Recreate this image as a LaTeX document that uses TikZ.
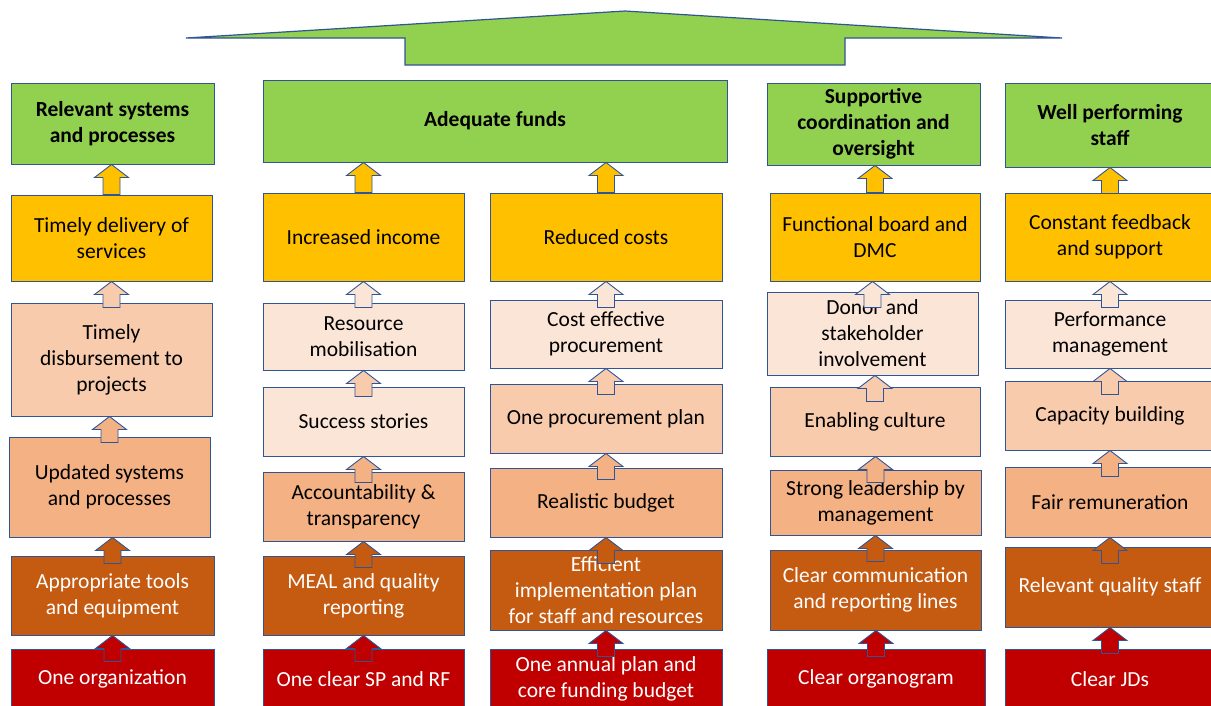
\documentclass[tikz,border=0pt]{standalone}
\usepackage{fontspec}
\setmainfont{Carlito}
\usetikzlibrary{calc}

\definecolor{bordc}{RGB}{47,85,151}
\definecolor{cgreen}{HTML}{92D050}
\definecolor{cgold}{HTML}{FFC000}
\definecolor{cpale}{HTML}{FBE5D6}
\definecolor{clight}{HTML}{F8CBAD}
\definecolor{cmid}{HTML}{F4B183}
\definecolor{cdark}{HTML}{C55A11}
\definecolor{cred}{HTML}{C00000}

\tikzset{
  box/.style={draw=bordc, line width=1pt, inner sep=2pt, align=center,
    font=\fontsize{21.5}{26}\selectfont},
  goal/.style={box, fill=cgreen, font=\fontsize{21.5}{26}\selectfont\bfseries},
  outc/.style={box, fill=cgold},
  pale/.style={box, fill=cpale},
  light/.style={box, fill=clight},
  mid/.style={box, fill=cmid},
  darkb/.style={box, fill=cdark, text=white},
  base/.style={box, fill=cred, text=white},
  arrowshape/.style={draw=bordc, line width=0.9pt, line join=miter},
  bigarr/.style={draw=bordc, line width=1.2pt, fill=cgreen, line join=miter},
}

% box: name, style, x1, y1, x2, y2, text  (pixel-like coordinates, y downwards)
\newcommand\bx[7]{\node[#2, minimum width={(#5-#3)*1pt}, minimum height={(#6-#4)*1pt}]
  (#1) at ({(#3+#5)/2},{(#4+#6)/2}) {#7};}

% small block arrow from the top of one box up to the bottom of another
\newcommand\uparr[3]{\draw[arrowshape, fill=#3]
  let \p1=(#1.north), \p2=(#2.south), \n1={min(\y1,\y2-26pt)} in
  ({\x1-8.5pt},{\n1*1pt}) -- ({\x1-8.5pt},{\y2-13pt}) -- ({\x1-17pt},{\y2-13pt})
  -- (\x1,\y2) -- ({\x1+17pt},{\y2-13pt}) -- ({\x1+8.5pt},{\y2-13pt})
  -- ({\x1+8.5pt},{\n1*1pt}) -- cycle;}

\begin{document}
\begin{tikzpicture}[x=1pt, y=-1pt]
\useasboundingbox (0,0) rectangle (1211,705);

% overall upward arrow
\draw[bigarr] (186,38) -- (625,11) -- (1062,38) -- (845,38) -- (845,65)
  -- (405,65) -- (405,38) -- cycle;

% column 1
\bx{g1}{goal}{11}{83}{214}{164}{Relevant systems\\and processes}
\bx{p1}{outc}{11}{195}{212}{281}{Timely delivery of\\services}
\bx{p2}{light}{11}{303}{212}{416}{Timely\\disbursement to\\projects}
\bx{p3}{mid}{9}{437}{210}{537}{Updated systems\\and processes}
\bx{p4}{darkb}{11}{556}{214}{635}{Appropriate tools\\and equipment}
\bx{p5}{base}{11}{649}{214}{709}{One organization}

% column 2
\bx{g2}{goal}{263}{80}{727}{162}{Adequate funds}
\bx{a1}{outc}{263}{193}{464}{281}{Increased income}
\bx{a2}{pale}{263}{303}{464}{370}{Resource\\mobilisation}
\bx{a3}{pale}{263}{387}{464}{456}{Success stories}
\bx{a4}{mid}{263}{472}{464}{541}{Accountability \&\\transparency}
\bx{a5}{darkb}{263}{556}{464}{635}{MEAL and quality\\reporting}
\bx{a6}{base}{263}{649}{464}{709}{One clear SP and RF}

\bx{b1}{outc}{490}{193}{722}{281}{Reduced costs}
\bx{b2}{pale}{490}{300}{722}{368}{Cost effective\\procurement}
\bx{b3}{light}{490}{384}{722}{453}{One procurement plan}
\bx{b4}{mid}{490}{468}{722}{537}{Realistic budget}
\bx{b5}{darkb}{490}{550}{722}{630}{Efficient\\implementation plan\\for staff and resources}
\bx{b6}{base}{490}{649}{722}{709}{One annual plan and\\core funding budget}

% column 3
\bx{g3}{goal}{767}{83}{980}{165}{Supportive\\coordination and\\oversight}
\bx{c1}{outc}{770}{193}{980}{281}{Functional board and\\DMC}
\bx{c2}{pale}{767}{292}{978}{375}{Donor and\\stakeholder\\involvement}
\bx{c3}{light}{770}{387}{980}{456}{Enabling culture}
\bx{c4}{mid}{770}{470}{981}{535}{Strong leadership by\\management}
\bx{c5}{darkb}{770}{550}{981}{630}{Clear communication\\and reporting lines}
\bx{c6}{base}{767}{649}{985}{709}{Clear organogram}

% column 4
\bx{g4}{goal}{1005}{83}{1215}{167}{Well performing\\staff}
\bx{d1}{outc}{1005}{193}{1215}{281}{Constant feedback\\and support}
\bx{d2}{pale}{1005}{300}{1215}{368}{Performance\\management}
\bx{d3}{light}{1005}{381}{1215}{450}{Capacity building}
\bx{d4}{mid}{1005}{467}{1215}{537}{Fair remuneration}
\bx{d5}{darkb}{1005}{547}{1215}{627}{Relevant quality staff}
\bx{d6}{base}{1005}{649}{1215}{709}{Clear JDs}

% connecting block arrows
\uparr{p1}{g1}{cgold}
\uparr{p2}{p1}{clight}
\uparr{p3}{p2}{cmid}
\uparr{p4}{p3}{cdark}
\uparr{p5}{p4}{cred}

\uparr{a1}{g2}{cgold}
\uparr{a2}{a1}{cpale}
\uparr{a3}{a2}{clight}
\uparr{a4}{a3}{cmid}
\uparr{a5}{a4}{cdark}
\uparr{a6}{a5}{cred}

\uparr{b1}{g2}{cgold}
\uparr{b2}{b1}{cpale}
\uparr{b3}{b2}{clight}
\uparr{b4}{b3}{cmid}
\uparr{b5}{b4}{cdark}
\uparr{b6}{b5}{cred}

\uparr{c1}{g3}{cgold}
\uparr{c2}{c1}{cpale}
\uparr{c3}{c2}{clight}
\uparr{c4}{c3}{cmid}
\uparr{c5}{c4}{cdark}
\uparr{c6}{c5}{cred}

\uparr{d1}{g4}{cgold}
\uparr{d2}{d1}{cpale}
\uparr{d3}{d2}{clight}
\uparr{d4}{d3}{cmid}
\uparr{d5}{d4}{cdark}
\uparr{d6}{d5}{cred}
\end{tikzpicture}
\end{document}
